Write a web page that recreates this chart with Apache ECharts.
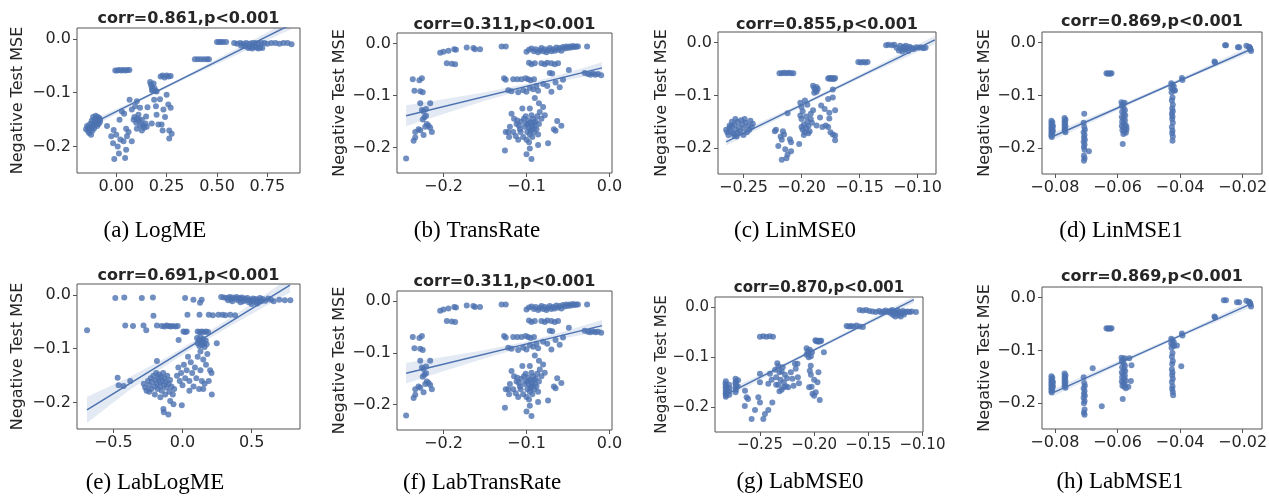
<!DOCTYPE html>
<html>
<head>
<meta charset="utf-8">
<script src="https://cdn.jsdelivr.net/npm/echarts@6/dist/echarts.min.js"></script>
<style>html,body{margin:0;background:#fff}#chart{width:1269px;height:498px}</style>
</head>
<body>
<div id="chart"></div>
<script>
// texts
const captions = ['(a) LogME', '(b) TransRate', '(c) LinMSE0', '(d) LinMSE1', '(e) LabLogME', '(f) LabTransRate', '(g) LabMSE0', '(h) LabMSE1']
const corrTexts = ['corr=0.861,p<0.001', 'corr=0.311,p<0.001', 'corr=0.855,p<0.001', 'corr=0.869,p<0.001',
  'corr=0.691,p<0.001', 'corr=0.311,p<0.001', 'corr=0.870,p<0.001', 'corr=0.869,p<0.001']
const yLabel = 'Negative Test MSE'

// tick values
const yTicks = [-0.2, -0.1, 0]
const xTicksLogme = [0, 0.25, 0.5, 0.75]
const xTicksTrans = [-0.2, -0.1, 0]
const xTicksMse0 = [-0.25, -0.2, -0.15, -0.1]
const xTicksMse1 = [-0.08, -0.06, -0.04, -0.02]
const xTicksLabLogme = [-0.5, 0, 0.5]

// (a) LogME  [score, -mse]
const logmePts = [
  [-0.15,-0.168],[-0.145,-0.162],[-0.14,-0.171],[-0.138,-0.165],[-0.135,-0.175],[-0.13,-0.158],[-0.128,-0.168],[-0.125,-0.178],
  [-0.122,-0.152],[-0.12,-0.163],[-0.118,-0.17],[-0.115,-0.145],[-0.112,-0.158],[-0.11,-0.166],[-0.108,-0.15],[-0.105,-0.16],
  [-0.102,-0.143],[-0.1,-0.155],[-0.098,-0.148],[-0.095,-0.162],[-0.092,-0.145],[-0.09,-0.152],[-0.088,-0.158],[-0.085,-0.147],
  [-0.082,-0.155],[-0.08,-0.15],[-0.046,-0.162],
  [-0.025,-0.181],[-0.013,-0.169],[-0.016,-0.194],[0,-0.178],[0.007,-0.2],[-0.01,-0.223],[0.013,-0.213],[0.044,-0.221],
  [0.049,-0.206],[0.02,-0.187],[0.036,-0.19],[0.053,-0.181],[0.061,-0.173],[0.016,-0.15],[0.028,-0.135],[0.039,-0.139],
  [0.077,-0.19],[0.049,-0.167],
  [-0.005,-0.059],[0.005,-0.059],[0.015,-0.058],[0.025,-0.059],[0.035,-0.058],[0.045,-0.059],[0.055,-0.058],[0.065,-0.058],
  [0.066,-0.113],[0.077,-0.131],[0.094,-0.125],[0.102,-0.116],[0.086,-0.15],[0.099,-0.156],[0.11,-0.141],[0.118,-0.128],
  [0.127,-0.15],[0.118,-0.161],[0.132,-0.16],[0.138,-0.165],[0.102,-0.167],[0.127,-0.17],[0.145,-0.157],[0.148,-0.144],
  [0.155,-0.127],[0.151,-0.163],[0.09,-0.145],[0.105,-0.148],[0.113,-0.152],
  [0.168,-0.08],[0.172,-0.085],[0.176,-0.09],[0.18,-0.094],[0.185,-0.083],[0.19,-0.092],[0.195,-0.097],[0.178,-0.096],[0.2,-0.098],
  [0.22,-0.07],[0.23,-0.068],[0.24,-0.072],[0.25,-0.068],[0.26,-0.07],[0.27,-0.069],
  [0.176,-0.157],[0.2,-0.141],[0.209,-0.159],[0.217,-0.112],[0.234,-0.131],[0.242,-0.145],[0.23,-0.17],[0.25,-0.104],
  [0.258,-0.122],[0.263,-0.17],[0.27,-0.128],[0.275,-0.176],[0.263,-0.185],[0.188,-0.113],[0.197,-0.125],[0.225,-0.159],
  [0.39,-0.038],[0.405,-0.038],[0.42,-0.038],[0.435,-0.038],[0.45,-0.038],[0.46,-0.038],
  [0.5,-0.006],[0.51,-0.006],[0.52,-0.006],[0.53,-0.006],[0.545,-0.006],
  [0.585,-0.008],[0.6,-0.009],[0.615,-0.008],[0.63,-0.009],[0.645,-0.008],[0.66,-0.009],[0.675,-0.008],[0.69,-0.008],
  [0.705,-0.009],[0.72,-0.008],[0.735,-0.008],[0.75,-0.009],[0.77,-0.008],[0.79,-0.008],[0.81,-0.009],[0.83,-0.008],
  [0.85,-0.008],[0.87,-0.01],
  [0.62,-0.013],[0.64,-0.014],[0.655,-0.017],[0.665,-0.016],[0.675,-0.018],[0.685,-0.015],[0.695,-0.016],[0.705,-0.018],
  [0.715,-0.016],[0.725,-0.017]
]
const logmeFit = [[-0.15,-0.163],[0.87,0.027]]
const logmeBand = [[-0.15,-0.17,-0.156],[0.1,-0.1195,-0.1135],[0.35,-0.073,-0.067],[0.87,0.018,0.036]]

// (b) TransRate
const transRatePts = [
  [-0.245,-0.221],
  [-0.237,-0.069],[-0.226,-0.067],[-0.229,-0.071],[-0.235,-0.091],[-0.228,-0.092],[-0.225,-0.094],[-0.228,-0.115],[-0.216,-0.115],
  [-0.226,-0.128],[-0.221,-0.126],[-0.224,-0.131],[-0.223,-0.142],[-0.221,-0.139],[-0.225,-0.146],[-0.22,-0.155],[-0.218,-0.158],
  [-0.216,-0.162],[-0.222,-0.16],[-0.23,-0.165],[-0.228,-0.167],[-0.234,-0.17],[-0.236,-0.187],[-0.234,-0.181],[-0.224,-0.176],
  [-0.214,-0.17],
  [-0.204,-0.018],[-0.2,-0.016],[-0.194,-0.014],[-0.187,-0.011],[-0.185,-0.012],[-0.172,-0.008],[-0.164,-0.009],[-0.162,-0.011],
  [-0.156,-0.011],[-0.196,-0.038],[-0.19,-0.039],[-0.186,-0.04],[-0.13,-0.006],[-0.125,-0.006],
  [-0.1,-0.016],[-0.097,-0.012],[-0.094,-0.01],[-0.091,-0.015],[-0.089,-0.011],[-0.086,-0.017],[-0.084,-0.013],[-0.082,-0.009],
  [-0.08,-0.015],[-0.078,-0.011],[-0.076,-0.017],[-0.074,-0.013],[-0.072,-0.009],[-0.07,-0.015],[-0.068,-0.011],[-0.066,-0.014],
  [-0.064,-0.008],[-0.062,-0.012],[-0.06,-0.009],[-0.058,-0.014],[-0.056,-0.007],[-0.054,-0.01],[-0.052,-0.006],[-0.05,-0.009],
  [-0.048,-0.006],[-0.046,-0.008],[-0.044,-0.005],[-0.042,-0.007],[-0.04,-0.006],[-0.038,-0.006],[-0.027,-0.006],
  [-0.097,-0.037],[-0.094,-0.04],[-0.09,-0.038],[-0.082,-0.038],[-0.078,-0.04],[-0.075,-0.037],[-0.07,-0.038],[-0.066,-0.04],
  [-0.062,-0.038],[-0.049,-0.051],[-0.072,-0.057],[-0.069,-0.058],
  [-0.03,-0.057],[-0.026,-0.059],[-0.023,-0.06],[-0.02,-0.058],[-0.017,-0.06],[-0.014,-0.059],[-0.01,-0.061],
  [-0.127,-0.067],[-0.125,-0.07],[-0.116,-0.069],[-0.111,-0.069],[-0.106,-0.069],[-0.101,-0.067],[-0.098,-0.069],[-0.095,-0.071],
  [-0.091,-0.069],
  [-0.122,-0.09],[-0.118,-0.092],[-0.11,-0.094],[-0.104,-0.09],[-0.1,-0.093],[-0.096,-0.085],[-0.092,-0.088],[-0.088,-0.082],
  [-0.086,-0.091],[-0.08,-0.078],[-0.075,-0.082],[-0.07,-0.093],[-0.065,-0.075],[-0.06,-0.084],[-0.056,-0.07],
  [-0.118,-0.135],[-0.115,-0.145],[-0.112,-0.155],[-0.12,-0.16],[-0.116,-0.17],[-0.122,-0.17],[-0.113,-0.178],[-0.11,-0.185],
  [-0.108,-0.165],[-0.106,-0.15],[-0.105,-0.125],[-0.104,-0.18],[-0.102,-0.16],[-0.101,-0.14],[-0.1,-0.155],[-0.099,-0.17],
  [-0.098,-0.148],[-0.097,-0.162],[-0.096,-0.175],[-0.095,-0.152],[-0.094,-0.165],[-0.093,-0.158],[-0.092,-0.145],[-0.091,-0.17],
  [-0.09,-0.16],[-0.089,-0.15],[-0.088,-0.165],[-0.087,-0.14],[-0.086,-0.175],[-0.085,-0.155],[-0.084,-0.132],[-0.082,-0.145],
  [-0.08,-0.122],[-0.078,-0.138],[-0.1,-0.185],[-0.097,-0.19],[-0.093,-0.18],[-0.107,-0.17],[-0.103,-0.145],[-0.098,-0.155],
  [-0.095,-0.168],[-0.091,-0.152],[-0.109,-0.158],[-0.111,-0.148],[-0.094,-0.138],[-0.096,-0.125],[-0.09,-0.105],[-0.085,-0.115],
  [-0.125,-0.17],[-0.121,-0.18],
  [-0.126,-0.206],[-0.1,-0.213],[-0.096,-0.202],[-0.094,-0.222],[-0.086,-0.195],[-0.074,-0.192],
  [-0.063,-0.149],[-0.058,-0.158],[-0.067,-0.165],[-0.065,-0.168]
]
const transRateFit = [[-0.245,-0.139],[-0.009,-0.047]]
const transRateBand = [[-0.245,-0.159,-0.119],[-0.2,-0.1355,-0.1075],[-0.15,-0.11,-0.094],[-0.1,-0.0875,-0.0775],
  [-0.05,-0.07,-0.056],[-0.009,-0.058,-0.036]]

// (c) LinMSE0
const linMse0Pts = [
  [-0.265,-0.165],[-0.264,-0.17],[-0.263,-0.175],[-0.262,-0.162],[-0.261,-0.168],[-0.26,-0.158],[-0.259,-0.172],[-0.258,-0.155],
  [-0.257,-0.165],[-0.256,-0.178],[-0.255,-0.15],[-0.254,-0.16],[-0.253,-0.168],[-0.252,-0.147],[-0.251,-0.155],[-0.25,-0.163],
  [-0.249,-0.145],[-0.248,-0.152],[-0.247,-0.17],[-0.246,-0.158],[-0.245,-0.165],[-0.244,-0.148],[-0.243,-0.16],[-0.242,-0.154],
  [-0.258,-0.176],[-0.255,-0.171],[-0.26,-0.15],[-0.257,-0.145],[-0.25,-0.175],[-0.262,-0.157],
  [-0.222,-0.165],[-0.223,-0.168],[-0.22,-0.196],[-0.217,-0.184],[-0.216,-0.168],[-0.215,-0.174],[-0.214,-0.202],[-0.213,-0.219],
  [-0.217,-0.222],[-0.21,-0.183],[-0.209,-0.189],[-0.212,-0.134],[-0.209,-0.206],[-0.212,-0.212],[-0.218,-0.178],
  [-0.219,-0.058],[-0.217,-0.058],[-0.215,-0.057],[-0.213,-0.058],[-0.211,-0.057],[-0.209,-0.058],[-0.207,-0.058],
  [-0.201,-0.114],[-0.2,-0.122],[-0.199,-0.13],[-0.201,-0.138],[-0.2,-0.145],[-0.198,-0.155],[-0.2,-0.16],[-0.199,-0.165],
  [-0.197,-0.17],[-0.196,-0.14],[-0.195,-0.15],[-0.194,-0.158],[-0.196,-0.162],[-0.193,-0.168],[-0.192,-0.145],[-0.191,-0.152],
  [-0.19,-0.128],[-0.192,-0.135],[-0.195,-0.118],[-0.197,-0.11],[-0.194,-0.172],[-0.202,-0.192],[-0.198,-0.175],
  [-0.19,-0.082],[-0.189,-0.086],[-0.188,-0.09],[-0.187,-0.093],[-0.189,-0.095],[-0.186,-0.088],[-0.187,-0.084],
  [-0.183,-0.119],[-0.18,-0.126],[-0.184,-0.142],[-0.187,-0.157],[-0.182,-0.16],[-0.179,-0.157],
  [-0.177,-0.068],[-0.176,-0.067],[-0.175,-0.069],[-0.174,-0.067],[-0.173,-0.068],[-0.172,-0.069],[-0.171,-0.067],
  [-0.177,-0.107],[-0.173,-0.104],[-0.173,-0.089],[-0.176,-0.133],[-0.171,-0.128],[-0.176,-0.144],[-0.177,-0.16],[-0.175,-0.17],
  [-0.173,-0.174],[-0.171,-0.176],[-0.171,-0.185],
  [-0.151,-0.037],[-0.149,-0.038],[-0.147,-0.037],[-0.145,-0.038],[-0.143,-0.037],
  [-0.127,-0.005],[-0.125,-0.004],[-0.122,-0.005],[-0.12,-0.004],
  [-0.118,-0.01],[-0.116,-0.015],[-0.115,-0.006],[-0.114,-0.012],[-0.113,-0.017],[-0.112,-0.008],[-0.111,-0.013],[-0.11,-0.006],
  [-0.109,-0.011],[-0.108,-0.016],[-0.107,-0.008],[-0.105,-0.01],[-0.103,-0.012],[-0.101,-0.009],[-0.099,-0.01],[-0.097,-0.009],
  [-0.095,-0.011],[-0.093,-0.01]
]
const linMse0Fit = [[-0.265,-0.188],[-0.085,0.005]]
const linMse0Band = [[-0.265,-0.195,-0.181],[-0.2,-0.122,-0.115],[-0.15,-0.068,-0.061],[-0.085,-0.003,0.013]]

// (d) LinMSE1
const linMse1Pts = [
  [-0.0811,-0.148],[-0.0808,-0.151],[-0.0811,-0.154],[-0.0809,-0.157],[-0.0811,-0.16],[-0.0808,-0.162],[-0.0811,-0.165],
  [-0.0809,-0.168],[-0.0811,-0.171],[-0.0808,-0.173],[-0.0811,-0.176],[-0.081,-0.179],[-0.0806,-0.158],[-0.0806,-0.167],
  [-0.0769,-0.143],[-0.0766,-0.146],[-0.0769,-0.149],[-0.0767,-0.152],[-0.0769,-0.155],[-0.0766,-0.158],[-0.0769,-0.161],
  [-0.0767,-0.164],[-0.0769,-0.167],[-0.0766,-0.17],
  [-0.0706,-0.135],[-0.0708,-0.152],[-0.0706,-0.16],[-0.0704,-0.165],[-0.0708,-0.17],[-0.0705,-0.175],[-0.0707,-0.18],
  [-0.0704,-0.184],[-0.0708,-0.188],[-0.0705,-0.193],[-0.0707,-0.198],[-0.0705,-0.203],[-0.0707,-0.214],[-0.0705,-0.219],
  [-0.0707,-0.224],[-0.0691,-0.206],
  [-0.0635,-0.058],[-0.0631,-0.059],[-0.0627,-0.058],[-0.0623,-0.059],[-0.0619,-0.058],
  [-0.0587,-0.113],[-0.0582,-0.116],[-0.0577,-0.114],[-0.0586,-0.12],[-0.058,-0.124],[-0.0576,-0.128],[-0.0585,-0.131],
  [-0.0579,-0.135],[-0.0575,-0.138],[-0.0586,-0.141],[-0.0581,-0.144],[-0.0576,-0.147],[-0.0585,-0.15],[-0.0579,-0.153],
  [-0.0574,-0.156],[-0.0586,-0.158],[-0.0581,-0.161],[-0.0577,-0.163],[-0.0584,-0.166],[-0.0578,-0.168],[-0.0573,-0.171],
  [-0.0581,-0.173],[-0.0583,-0.192],[-0.0571,-0.16],[-0.0571,-0.165],
  [-0.0428,-0.077],[-0.0424,-0.08],[-0.042,-0.083],[-0.0428,-0.086],[-0.0423,-0.089],[-0.0419,-0.091],[-0.0427,-0.094],
  [-0.0416,-0.091],[-0.0424,-0.104],[-0.0426,-0.11],[-0.0423,-0.118],[-0.0425,-0.125],[-0.0423,-0.13],[-0.0426,-0.135],
  [-0.0424,-0.14],[-0.0425,-0.145],[-0.0423,-0.152],[-0.0426,-0.16],[-0.0424,-0.167],[-0.0425,-0.172],[-0.0423,-0.178],
  [-0.0424,-0.186],
  [-0.0394,-0.067],[-0.0392,-0.071],[-0.0288,-0.038],[-0.029,-0.036],[-0.0256,-0.005],[-0.0253,-0.005],[-0.0215,-0.009],
  [-0.0211,-0.009],[-0.0188,-0.006],[-0.018,-0.008],[-0.0176,-0.011],[-0.0175,-0.0126],[-0.0173,-0.016],[-0.0178,-0.009]
]
const linMse1Fit = [[-0.081,-0.179],[-0.0173,-0.0126]]
const linMse1Band = [[-0.081,-0.186,-0.172],[-0.06,-0.128,-0.12],[-0.04,-0.074,-0.068],[-0.0173,-0.019,-0.006]]

// (e) LabLogME
const labLogmePts = [
  [-0.69,-0.066],[-0.486,-0.006],[-0.421,-0.005],[-0.294,-0.006],[-0.214,-0.005],[-0.21,-0.039],
  [-0.414,-0.057],[-0.358,-0.058],[-0.282,-0.057],[-0.262,-0.066],[-0.185,-0.057],
  [-0.15,-0.058],[-0.13,-0.059],[-0.115,-0.057],[-0.1,-0.058],[-0.085,-0.059],[-0.07,-0.058],[-0.05,-0.059],[-0.035,-0.058],
  [-0.028,-0.084],[0.007,-0.068],[0.02,-0.069],[0.031,-0.068],
  [0.019,-0.006],[0.079,-0.009],[0.127,-0.015],[0.139,-0.009],
  [0.036,-0.037],[0.123,-0.037],[0.19,-0.037],[0.22,-0.038],[0.26,-0.037],[0.29,-0.037],[0.31,-0.038],[0.345,-0.037],[0.38,-0.038],
  [0.11,-0.068],[0.125,-0.069],[0.14,-0.068],[0.155,-0.069],[0.17,-0.068],[0.185,-0.069],
  [0.105,-0.08],[0.11,-0.09],[0.118,-0.085],[0.122,-0.095],[0.13,-0.078],[0.135,-0.088],[0.14,-0.093],[0.148,-0.082],
  [0.155,-0.09],[0.16,-0.097],[0.168,-0.085],[0.175,-0.092],[0.248,-0.09],
  [0.28,-0.004],[0.3,-0.005],[0.32,-0.006],[0.34,-0.004],[0.35,-0.008],[0.36,-0.005],[0.38,-0.007],[0.39,-0.004],[0.4,-0.01],
  [0.41,-0.006],[0.42,-0.008],[0.43,-0.005],[0.44,-0.012],[0.45,-0.007],[0.46,-0.01],[0.47,-0.006],[0.48,-0.014],[0.49,-0.009],
  [0.5,-0.011],[0.51,-0.007],[0.52,-0.013],[0.53,-0.008],[0.54,-0.016],[0.55,-0.01],[0.56,-0.006],[0.57,-0.012],[0.58,-0.008],
  [0.6,-0.011],[0.62,-0.007],[0.64,-0.009],[0.66,-0.012],[0.7,-0.009],[0.74,-0.01],[0.78,-0.01],[0.36,-0.012],[0.42,-0.014],
  [0.5,-0.017],[0.55,-0.014],[0.33,-0.01],
  [-0.469,-0.154],[-0.462,-0.168],[-0.426,-0.169],[-0.378,-0.16],
  [-0.28,-0.165],[-0.27,-0.172],[-0.26,-0.178],[-0.25,-0.16],[-0.24,-0.168],[-0.23,-0.155],[-0.225,-0.175],[-0.22,-0.162],
  [-0.21,-0.15],[-0.2,-0.17],[-0.195,-0.158],[-0.19,-0.145],[-0.185,-0.165],[-0.18,-0.175],[-0.175,-0.155],[-0.17,-0.148],
  [-0.165,-0.162],[-0.16,-0.17],[-0.155,-0.152],[-0.15,-0.178],[-0.145,-0.16],[-0.14,-0.145],[-0.135,-0.168],[-0.13,-0.155],
  [-0.125,-0.185],[-0.12,-0.162],[-0.115,-0.172],[-0.11,-0.15],[-0.1,-0.165],[-0.095,-0.18],[-0.09,-0.158],[-0.08,-0.17],
  [-0.07,-0.185],[-0.06,-0.175],[-0.185,-0.123],[-0.24,-0.18],[-0.2,-0.185],[-0.16,-0.19],
  [-0.138,-0.212],[-0.135,-0.218],[-0.102,-0.222],[-0.089,-0.197],[-0.065,-0.203],[-0.005,-0.205],
  [-0.04,-0.15],[-0.03,-0.135],[-0.02,-0.16],[-0.01,-0.145],[0,-0.168],[0.01,-0.13],[0.02,-0.155],[0.03,-0.14],[0.04,-0.115],
  [0.05,-0.16],[0.06,-0.125],[0.07,-0.145],[0.08,-0.17],[0.09,-0.135],[0.1,-0.155],[0.11,-0.115],[0.12,-0.175],[0.13,-0.14],
  [0.14,-0.16],[0.15,-0.12],[0.16,-0.165],[0.17,-0.13],[0.18,-0.11],[0.19,-0.16],[0.2,-0.14],[0.21,-0.145],[0.212,-0.185],
  [0.05,-0.178],[0.13,-0.105],[0.15,-0.175]
]
const labLogmeFit = [[-0.691,-0.2135],[0.778,0.018]]
const labLogmeBand = [[-0.691,-0.238,-0.189],[-0.4,-0.18,-0.155],[-0.1,-0.128,-0.114],[0.1,-0.095,-0.083],
  [0.4,-0.05,-0.034],[0.778,0.004,0.032]]

// (f) LabTransRate: same scatter as (b)
const labTransRatePts = transRatePts
const labTransRateFit = transRateFit
const labTransRateBand = transRateBand

// (g) LabMSE0
const labMse0Pts = [
  [-0.2815,-0.148],[-0.2818,-0.153],[-0.2813,-0.157],[-0.2817,-0.16],[-0.2812,-0.163],[-0.2816,-0.167],[-0.2813,-0.17],
  [-0.2817,-0.173],[-0.2812,-0.176],[-0.2815,-0.179],[-0.2785,-0.155],[-0.2782,-0.162],[-0.2787,-0.168],[-0.2783,-0.175],
  [-0.2725,-0.143],[-0.2722,-0.148],[-0.2727,-0.152],[-0.2721,-0.156],[-0.2726,-0.16],[-0.2722,-0.165],[-0.2725,-0.17],
  [-0.2702,-0.146],[-0.2705,-0.158],
  [-0.2638,-0.167],[-0.2623,-0.18],[-0.264,-0.197],[-0.261,-0.183],[-0.2546,-0.205],[-0.2515,-0.18],[-0.25,-0.19],
  [-0.2577,-0.223],[-0.2469,-0.223],[-0.2454,-0.213],[-0.2423,-0.205],[-0.2386,-0.19],
  [-0.25,-0.133],[-0.25,-0.15],[-0.2423,-0.153],[-0.2408,-0.133],[-0.2392,-0.145],
  [-0.25,-0.059],[-0.247,-0.058],[-0.244,-0.059],[-0.241,-0.058],[-0.238,-0.059],
  [-0.236,-0.125],[-0.235,-0.14],[-0.234,-0.112],[-0.233,-0.155],[-0.232,-0.13],[-0.231,-0.145],[-0.23,-0.165],[-0.229,-0.12],
  [-0.228,-0.15],[-0.227,-0.135],[-0.226,-0.158],[-0.225,-0.142],[-0.224,-0.16],[-0.233,-0.118],[-0.23,-0.128],[-0.228,-0.16],
  [-0.235,-0.155],[-0.232,-0.168],
  [-0.2215,-0.13],[-0.22,-0.143],[-0.219,-0.157],[-0.217,-0.123],[-0.215,-0.14],[-0.214,-0.152],[-0.2177,-0.113],[-0.2154,-0.113],
  [-0.207,-0.082],[-0.206,-0.088],[-0.205,-0.093],[-0.204,-0.085],[-0.203,-0.098],[-0.207,-0.095],[-0.202,-0.09],[-0.205,-0.1],
  [-0.2031,-0.117],[-0.204,-0.127],[-0.2046,-0.16],[-0.2023,-0.159],[-0.2015,-0.173],[-0.2,-0.177],[-0.1985,-0.17],
  [-0.1969,-0.15],[-0.196,-0.13],[-0.1948,-0.185],[-0.203,-0.135],[-0.2,-0.145],
  [-0.1988,-0.066],[-0.198,-0.068],[-0.197,-0.067],[-0.196,-0.069],[-0.195,-0.067],[-0.1945,-0.068],[-0.1935,-0.067],
  [-0.191,-0.09],
  [-0.17,-0.038],[-0.168,-0.039],[-0.166,-0.038],[-0.164,-0.039],[-0.161,-0.037],[-0.158,-0.039],[-0.155,-0.04],
  [-0.158,-0.006],[-0.155,-0.007],[-0.152,-0.006],[-0.149,-0.008],
  [-0.146,-0.009],[-0.143,-0.01],[-0.14,-0.008],[-0.138,-0.011],[-0.136,-0.009],[-0.134,-0.007],[-0.132,-0.01],[-0.13,-0.008],
  [-0.129,-0.013],[-0.128,-0.006],[-0.127,-0.016],[-0.126,-0.009],[-0.125,-0.019],[-0.124,-0.012],[-0.123,-0.007],
  [-0.122,-0.016],[-0.121,-0.01],[-0.12,-0.019],[-0.119,-0.012],[-0.118,-0.008],[-0.117,-0.015],[-0.116,-0.01],
  [-0.114,-0.009],[-0.112,-0.01],[-0.11,-0.009],[-0.106,-0.01]
]
const labMse0Fit = [[-0.2802,-0.173],[-0.108,0.0147]]
const labMse0Band = [[-0.2802,-0.18,-0.166],[-0.22,-0.111,-0.104],[-0.16,-0.045,-0.038],[-0.108,0.008,0.021]]

// (h) LabMSE1
const labMse1Pts = [
  [-0.0811,-0.149],[-0.0808,-0.152],[-0.0811,-0.155],[-0.0809,-0.158],[-0.0811,-0.161],[-0.0808,-0.163],[-0.0811,-0.166],
  [-0.0809,-0.169],[-0.0811,-0.172],[-0.0808,-0.174],[-0.0811,-0.177],[-0.081,-0.18],[-0.0806,-0.16],[-0.0806,-0.168],
  [-0.0769,-0.144],[-0.0766,-0.147],[-0.0769,-0.15],[-0.0767,-0.153],[-0.0769,-0.156],[-0.0766,-0.159],[-0.0769,-0.162],
  [-0.0767,-0.165],[-0.0769,-0.168],[-0.0766,-0.171],
  [-0.0679,-0.134],[-0.0708,-0.151],[-0.0706,-0.162],[-0.0704,-0.167],[-0.0708,-0.172],[-0.0705,-0.177],[-0.0707,-0.182],
  [-0.0704,-0.186],[-0.0708,-0.19],[-0.0705,-0.196],[-0.0707,-0.2],[-0.0705,-0.212],[-0.0707,-0.218],[-0.0705,-0.222],
  [-0.065,-0.206],
  [-0.0635,-0.058],[-0.0631,-0.059],[-0.0627,-0.058],[-0.0623,-0.059],[-0.0619,-0.058],
  [-0.0587,-0.114],[-0.0582,-0.117],[-0.0577,-0.115],[-0.0586,-0.121],[-0.058,-0.125],[-0.0576,-0.129],[-0.0585,-0.132],
  [-0.0579,-0.136],[-0.0575,-0.139],[-0.0586,-0.142],[-0.0581,-0.145],[-0.0576,-0.148],[-0.0585,-0.151],[-0.0579,-0.154],
  [-0.0574,-0.157],[-0.0586,-0.159],[-0.0581,-0.162],[-0.0577,-0.164],[-0.0584,-0.167],[-0.0578,-0.169],[-0.0573,-0.172],
  [-0.0583,-0.192],[-0.0555,-0.128],[-0.0557,-0.158],[-0.0565,-0.169],[-0.0562,-0.115],
  [-0.0428,-0.078],[-0.0424,-0.081],[-0.042,-0.084],[-0.0428,-0.087],[-0.0423,-0.09],[-0.0419,-0.092],[-0.0427,-0.095],
  [-0.041,-0.091],[-0.0424,-0.105],[-0.0426,-0.112],[-0.0423,-0.12],[-0.0425,-0.126],[-0.0396,-0.13],[-0.0426,-0.136],
  [-0.0424,-0.142],[-0.0425,-0.147],[-0.0423,-0.154],[-0.0426,-0.16],[-0.0424,-0.168],[-0.0425,-0.173],[-0.0423,-0.179],
  [-0.0422,-0.185],
  [-0.0394,-0.068],[-0.0392,-0.072],[-0.0288,-0.038],[-0.029,-0.036],[-0.026,-0.005],[-0.0253,-0.005],[-0.0218,-0.009],
  [-0.0211,-0.009],[-0.0188,-0.006],[-0.018,-0.008],[-0.0176,-0.011],[-0.0175,-0.0126],[-0.0173,-0.017],[-0.0178,-0.009]
]
const labMse1Fit = [[-0.0805,-0.18],[-0.0175,-0.0125]]
const labMse1Band = [[-0.0805,-0.187,-0.173],[-0.06,-0.129,-0.121],[-0.04,-0.075,-0.069],[-0.0175,-0.019,-0.006]]

// layout: box = [left, top, width, height]
const panels = [
  { pts: logmePts, fit: logmeFit, band: logmeBand, ticks: xTicksLogme, dec: 2, xr: [-0.195, 0.912], box: [77, 28, 223, 145], titleY: 18.5, labX: 18, cap: [155, 231], fs: 16 },
  { pts: transRatePts, fit: transRateFit, band: transRateBand, ticks: xTicksTrans, dec: 1, xr: [-0.256, 0.003], box: [397, 33, 215, 140], titleY: 24.5, labX: 340, cap: [477, 231], fs: 16 },
  { pts: linMse0Pts, fit: linMse0Fit, band: linMse0Band, ticks: xTicksMse0, dec: 2, xr: [-0.272, -0.084], box: [718, 32, 218, 142], titleY: 24.5, labX: 662, cap: [795, 231], fs: 16 },
  { pts: linMse1Pts, fit: linMse1Fit, band: linMse1Band, ticks: xTicksMse1, dec: 2, xr: [-0.0841, -0.0138], box: [1042, 32, 220, 142], titleY: 21.5, labX: 985, cap: [1121, 231], fs: 16 },
  { pts: labLogmePts, fit: labLogmeFit, band: labLogmeBand, ticks: xTicksLabLogme, dec: 1, xr: [-0.763, 0.85], box: [77, 284, 223, 145], titleY: 275.5, labX: 18, cap: [155, 483], fs: 16 },
  { pts: labTransRatePts, fit: labTransRateFit, band: labTransRateBand, ticks: xTicksTrans, dec: 1, xr: [-0.256, 0.003], box: [397, 291, 215, 139], titleY: 282, labX: 340, cap: [482, 483], fs: 16 },
  { pts: labMse0Pts, fit: labMse0Fit, band: labMse0Band, ticks: xTicksMse0, dec: 2, xr: [-0.2915, -0.0995], box: [715, 297, 208, 135], titleY: 288, labX: 662, cap: [800, 482], fs: 15 },
  { pts: labMse1Pts, fit: labMse1Fit, band: labMse1Band, ticks: xTicksMse1, dec: 2, xr: [-0.0841, -0.0138], box: [1042, 287, 220, 142], titleY: 276.5, labX: 985, cap: [1120, 482], fs: 16 }
]

const blue = '#4c72b0'
const frame = '#555'
const fmt = d => v => (v < -1e-9 ? '\u2212' : '') + Math.abs(v).toFixed(d)

const grid = [], xAxis = [], yAxis = [], series = [], graphic = []
panels.forEach((p, i) => {
  const [l, t, w, h] = p.box
  grid.push({ left: l, top: t, width: w, height: h, show: true, borderColor: frame, borderWidth: 1, outerBoundsMode: 'none' })
  const tick = { show: true, inside: false, length: 4, lineStyle: { color: frame } }
  const label = { margin: 6, color: '#262626', fontFamily: 'DejaVu Sans', fontSize: p.fs }
  xAxis.push({
    type: 'value', gridIndex: i, position: 'bottom',
    min: p.xr[0], max: p.xr[1],
    axisLine: { show: false, onZero: false },
    splitLine: { show: false },
    axisTick: Object.assign({ customValues: p.ticks }, tick),
    axisLabel: Object.assign({ customValues: p.ticks, formatter: fmt(p.dec) }, label)
  })
  yAxis.push({
    type: 'value', gridIndex: i, position: 'left',
    min: -0.249, max: 0.02,
    axisLine: { show: false, onZero: false },
    splitLine: { show: false },
    axisTick: Object.assign({ customValues: yTicks }, tick),
    axisLabel: Object.assign({ customValues: yTicks, formatter: fmt(1) }, label)
  })
  series.push({
    type: 'scatter', xAxisIndex: i, yAxisIndex: i, data: p.pts, symbolSize: 6, z: 2,
    itemStyle: { color: blue, opacity: 0.8 }
  })
  series.push({
    type: 'custom', xAxisIndex: i, yAxisIndex: i, clip: true, silent: true, z: 3,
    data: [p.band[0].slice(0, 2)],
    renderItem: (params, api) => {
      const upper = p.band.map(b => api.coord([b[0], b[2]]))
      const lower = p.band.map(b => api.coord([b[0], b[1]])).reverse()
      return { type: 'polygon', shape: { points: upper.concat(lower) }, style: { fill: 'rgba(76,114,176,0.15)' } }
    }
  })
  series.push({
    type: 'line', xAxisIndex: i, yAxisIndex: i, data: p.fit, showSymbol: false, symbol: 'none', z: 4, clip: true,
    lineStyle: { color: blue, width: 1.5 }
  })
  graphic.push({
    type: 'text', x: l + w / 2, y: p.titleY,
    style: { text: corrTexts[i], textAlign: 'center', textVerticalAlign: 'middle', fontFamily: 'DejaVu Sans', fontWeight: 'bold', fontSize: p.fs, fill: '#262626' }
  })
  graphic.push({
    type: 'text', x: p.labX, y: t + h / 2, rotation: Math.PI / 2,
    style: { text: yLabel, textAlign: 'center', textVerticalAlign: 'middle', fontFamily: 'DejaVu Sans', fontSize: p.fs, fill: '#262626' }
  })
  graphic.push({
    type: 'text', x: p.cap[0], y: p.cap[1],
    style: { text: captions[i], textAlign: 'center', textVerticalAlign: 'middle', fontFamily: 'Liberation Serif', fontSize: 23, fill: '#000' }
  })
})

const chart = echarts.init(document.getElementById('chart'), null, { renderer: 'canvas' })
chart.setOption({
  animation: false,
  backgroundColor: '#fff',
  grid, xAxis, yAxis, series, graphic
})
</script>
</body>
</html>
